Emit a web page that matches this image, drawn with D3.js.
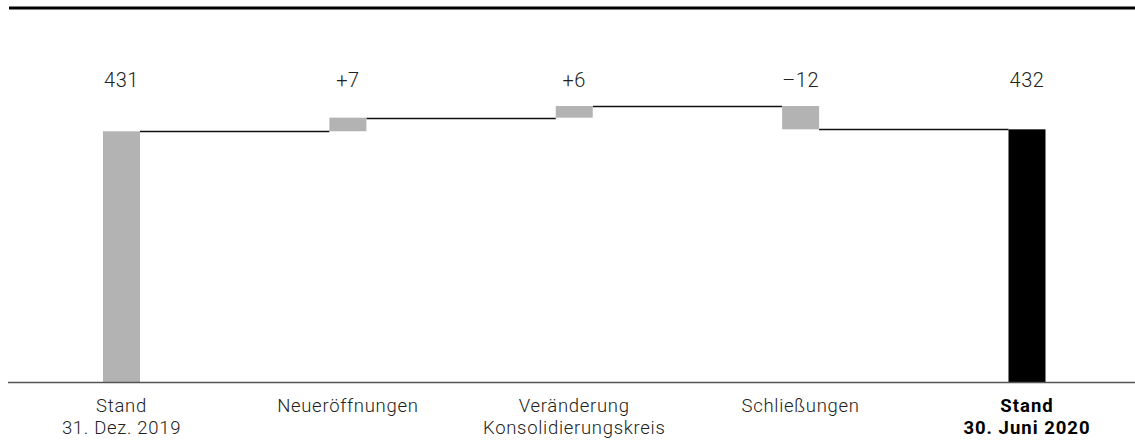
<!DOCTYPE html>
<html>
<head>
<meta charset="utf-8">
<script src="https://cdn.jsdelivr.net/npm/d3@7"></script>
<style>
  html, body { margin: 0; padding: 0; background: #fff; }
  svg { display: block; font-family: Roboto, "Liberation Sans", sans-serif; }
</style>
</head>
<body>
<svg id="chart" width="1135" height="448"></svg>
<script>
// Waterfall: store count at start, changes, and store count at end
const categories = ["start", "new", "consolidation", "closed", "end"];
const labelLines = [
  ["Stand", "31. Dez. 2019"],
  ["Neueröffnungen"],
  ["Veränderung", "Konsolidierungskreis"],
  ["Schließungen"],
  ["Stand", "30. Juni 2020"]
];
const values = [431, 7, 6, -12, 432];
const kinds = ["total", "delta", "delta", "delta", "total"];
const valueLabels = ["431", "+7", "+6", "\u201312", "432"];

const W = 1135, H = 448;
const svg = d3.select("#chart");

// Build running steps
let running = 0;
const steps = values.map((v, i) => {
  let y0, y1;
  if (kinds[i] === "total") { y0 = null; y1 = v; running = v; }
  else { y0 = running; y1 = running + v; running = y1; }
  return { cat: categories[i], kind: kinds[i], y0, y1, label: valueLabels[i], lines: labelLines[i] };
});

const x = d3.scalePoint().domain(categories).range([121.5, 1027]);
const barW = 37;
const y = d3.scaleLinear().domain([302, 444]).range([382, 106]);
const base = y.range()[0];

// Top rule
svg.append("line")
  .attr("x1", 9).attr("x2", W).attr("y1", 8).attr("y2", 8)
  .attr("stroke", "#000").attr("stroke-width", 3);

// Connectors between bars
steps.slice(0, -1).forEach((d, i) => {
  const level = d.y1;
  svg.append("line")
    .attr("x1", x(d.cat) + barW / 2)
    .attr("x2", x(steps[i + 1].cat) - barW / 2)
    .attr("y1", Math.round(y(level)) + 0.5)
    .attr("y2", Math.round(y(level)) + 0.5)
    .attr("stroke", "#111").attr("stroke-width", 1.5);
});

// Bars
svg.append("g").selectAll("rect").data(steps).join("rect")
  .attr("x", d => x(d.cat) - barW / 2)
  .attr("width", barW)
  .attr("y", d => d.kind === "total" ? y(d.y1) : y(Math.max(d.y0, d.y1)))
  .attr("height", d => d.kind === "total" ? base - y(d.y1) : Math.abs(y(d.y0) - y(d.y1)))
  .attr("fill", (d, i) => i === steps.length - 1 ? "#000" : "#b3b3b3");

// Baseline axis
svg.append("line")
  .attr("x1", 8).attr("x2", W).attr("y1", base + 0.5).attr("y2", base + 0.5)
  .attr("stroke", "#555").attr("stroke-width", 1.5);

// Value labels
svg.append("g").selectAll("text").data(steps).join("text")
  .attr("x", d => x(d.cat))
  .attr("y", 87)
  .attr("text-anchor", "middle")
  .attr("font-size", 20)
  .attr("font-weight", 300)
  .attr("letter-spacing", 0.5)
  .attr("fill", "#222")
  .text(d => d.label);

// Category labels
const cat = svg.append("g").selectAll("text").data(steps).join("text")
  .attr("text-anchor", "middle")
  .attr("font-size", 18.5)
  .attr("letter-spacing", (d, i) => i === steps.length - 1 ? 1 : 0.7)
  .attr("font-weight", (d, i) => i === steps.length - 1 ? 700 : 300)
  .attr("fill", (d, i) => i === steps.length - 1 ? "#000" : "#222");
cat.each(function(d) {
  d3.select(this).selectAll("tspan").data(d.lines).join("tspan")
    .attr("x", x(d.cat))
    .attr("y", (l, j) => 412 + j * 22)
    .text(l => l);
});
</script>
</body>
</html>
